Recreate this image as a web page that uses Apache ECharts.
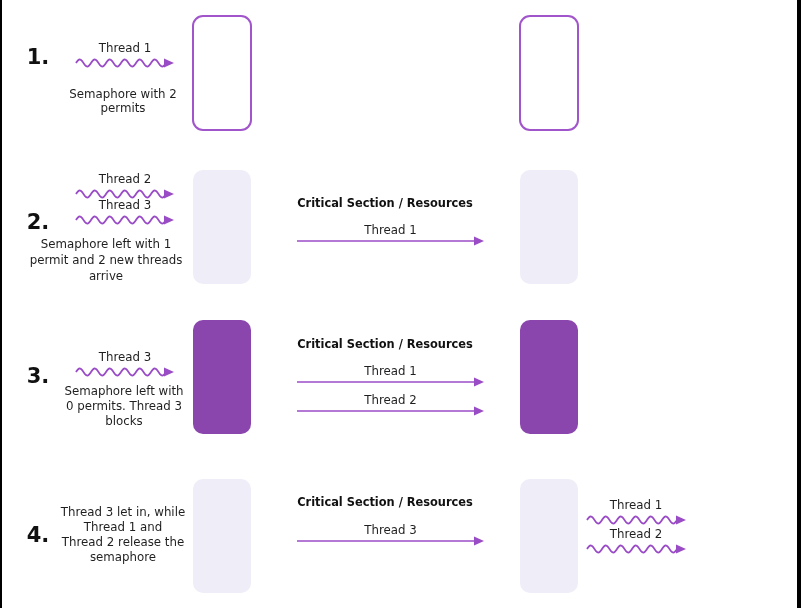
<!DOCTYPE html>
<html><head><meta charset="utf-8">
<script src="https://cdn.jsdelivr.net/npm/echarts@6/dist/echarts.min.js"></script>
<style>html,body{margin:0;padding:0;background:#fff}#c{width:801px;height:608px}</style>
</head><body><div id="c"></div>
<script>
// ---- content (data) ----
const stepLabels = ['1.', '2.', '3.', '4.'];
const semaphoreStates = ['outline', 'light', 'dark', 'light'];
const captions = [
  ['Semaphore with 2', 'permits'],
  ['Semaphore left with 1', 'permit and 2 new threads', 'arrive'],
  ['Semaphore left with', '0 permits. Thread 3', 'blocks'],
  ['Thread 3 let in, while', 'Thread 1 and', 'Thread 2 release the', 'semaphore']
];
const waitingThreads = [['Thread 1'], ['Thread 2', 'Thread 3'], ['Thread 3'], []];
const criticalThreads = [[], ['Thread 1'], ['Thread 1', 'Thread 2'], ['Thread 3']];
const releasedThreads = [[], [], [], ['Thread 1', 'Thread 2']];
const sectionTitle = 'Critical Section / Resources';

// ---- layout (diagram coordinates) ----
const layout = {
  rowTop: [16, 170, 320, 479],
  boxH: 114, boxW: 58, leftBoxX: 193, rightBoxX: 520,
  numberX: 38, numberY: [59, 224, 378, 537],
  waitArrowY: [[63], [194, 220], [372], []],
  waitX0: 76, waitX1: 174,
  captionX: [123, 106, 124, 123],
  captionY0: [95, 245, 392, 513],
  captionStep: [14, 16, 15, 15],
  titleY: [0, 204, 345, 503],
  titleX: 385,
  critArrowY: [[], [241], [382, 411], [541]],
  critX0: 297, critX1: 484,
  relArrowY: [[], [], [], [520, 549]],
  relX0: 587, relX1: 686, relLabelX: 636
};
const purple = '#9a4cc6';
const boxFill = { outline: '#ffffff', light: '#efedf8', dark: '#8b46ae' };
const FONT = '"DejaVu Sans", sans-serif';
const TXT = '11.8px ' + FONT;

function wavePoints(api, x0, x1, y) {
  const pts = [];
  const period = 15, amp = 3.5;
  for (let x = x0; x <= x1; x += 0.6) {
    pts.push(api.coord([x, y - amp * Math.sin((x - x0) / period * 2 * Math.PI)]));
  }
  return pts;
}
function head(api, xEnd, y, w, h) {
  const a = api.coord([xEnd - w, y - h / 2]);
  const b = api.coord([xEnd, y]);
  const c = api.coord([xEnd - w, y + h / 2]);
  return { type: 'polygon', shape: { points: [a, b, c] }, style: { fill: purple } };
}
function text(api, x, y, s, font, color) {
  const p = api.coord([x, y]);
  return { type: 'text', x: p[0], y: p[1],
    style: { text: s, font: font, fill: color || '#1f1f1f', align: 'center', verticalAlign: 'middle' } };
}

function renderRow(params, api) {
  const i = api.value(0);
  const L = layout;
  const ch = [];
  const state = semaphoreStates[i];
  [L.leftBoxX, L.rightBoxX].forEach(function (bx) {
    const p = api.coord([bx, L.rowTop[i]]);
    const q = api.coord([bx + L.boxW, L.rowTop[i] + L.boxH]);
    ch.push({ type: 'rect', shape: { x: p[0], y: p[1], width: q[0] - p[0], height: q[1] - p[1], r: 10 },
      style: state === 'outline' ? { fill: '#fff', stroke: '#a155cb', lineWidth: 2 } : { fill: boxFill[state] } });
  });
  ch.push(text(api, L.numberX, L.numberY[i], stepLabels[i], 'bold 21px ' + FONT, '#111'));
  waitingThreads[i].forEach(function (t, k) {
    const y = L.waitArrowY[i][k];
    ch.push(text(api, (L.waitX0 + L.waitX1) / 2, y - 14, t, TXT));
    ch.push({ type: 'polyline', shape: { points: wavePoints(api, L.waitX0, L.waitX1 - 9, y) },
      style: { stroke: purple, lineWidth: 1.8, fill: null } });
    ch.push(head(api, L.waitX1, y, 10, 9));
  });
  captions[i].forEach(function (s, k) {
    ch.push(text(api, L.captionX[i], L.captionY0[i] + k * L.captionStep[i], s, TXT));
  });
  if (criticalThreads[i].length) {
    ch.push(text(api, L.titleX, L.titleY[i], sectionTitle, 'bold 11.4px ' + FONT, '#111'));
  }
  criticalThreads[i].forEach(function (t, k) {
    const y = L.critArrowY[i][k];
    ch.push(text(api, (L.critX0 + L.critX1) / 2, y - 10, t, TXT));
    const a = api.coord([L.critX0, y]), b = api.coord([L.critX1 - 8, y]);
    ch.push({ type: 'line', shape: { x1: a[0], y1: a[1], x2: b[0], y2: b[1] }, style: { stroke: purple, lineWidth: 1.3 } });
    ch.push(head(api, L.critX1, y, 10, 9));
  });
  releasedThreads[i].forEach(function (t, k) {
    const y = L.relArrowY[i][k];
    ch.push(text(api, L.relLabelX, y - 14, t, TXT));
    ch.push({ type: 'polyline', shape: { points: wavePoints(api, L.relX0, L.relX1 - 9, y) },
      style: { stroke: purple, lineWidth: 1.8, fill: null } });
    ch.push(head(api, L.relX1, y, 10, 9));
  });
  return { type: 'group', children: ch };
}

const chart = echarts.init(document.getElementById('c'), null, { renderer: 'canvas' });
chart.setOption({
  animation: false,
  backgroundColor: '#fff',
  grid: { left: 0, right: 0, top: 0, bottom: 0 },
  xAxis: { type: 'value', min: 0, max: 801, show: false },
  yAxis: { type: 'value', min: 0, max: 608, inverse: true, show: false },
  series: [{
    type: 'custom',
    coordinateSystem: 'cartesian2d',
    data: stepLabels.map(function (_, i) { return [i]; }),
    encode: { x: -1, y: -1 },
    renderItem: renderRow,
    clip: false
  }],
  graphic: [
    { type: 'rect', left: 0, top: 0, shape: { width: 2, height: 608 }, style: { fill: '#000' } },
    { type: 'rect', left: 797, top: 0, shape: { width: 4, height: 608 }, style: { fill: '#000' } }
  ]
});
</script></body></html>
